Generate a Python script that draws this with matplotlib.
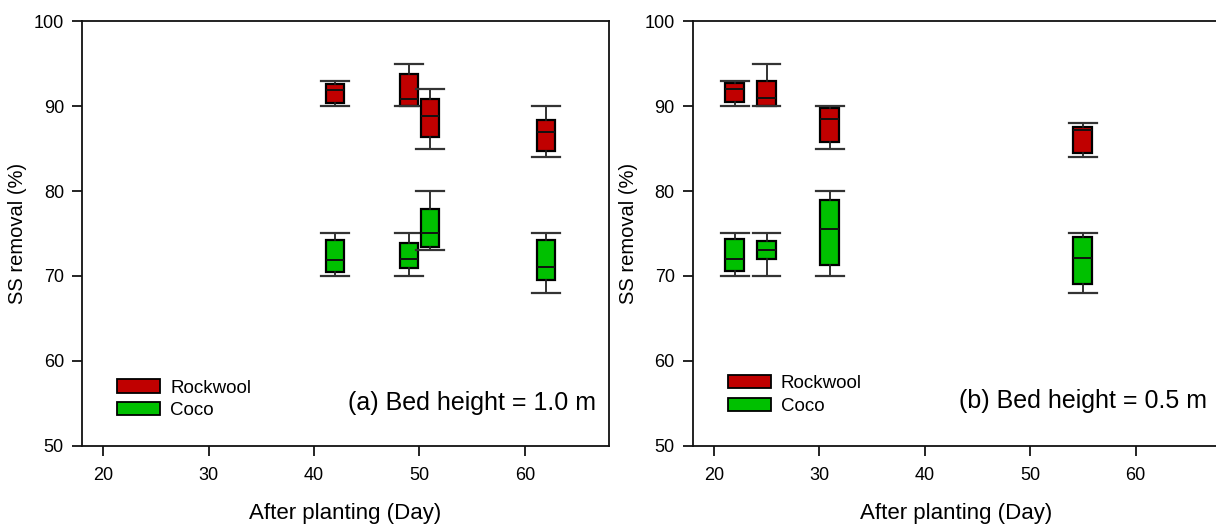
import matplotlib
matplotlib.use("Agg")
import matplotlib.pyplot as plt
from matplotlib.patches import Patch

plt.rcParams['font.family'] = ['Liberation Sans', 'DejaVu Sans']

# ---- Data ----
days_a = [42, 49, 51, 62]
rock_a_lo = [90, 90, 85, 84]
rock_a_q1 = [90.4, 90.0, 86.4, 84.7]
rock_a_med = [91.9, 90.9, 88.9, 86.9]
rock_a_q3 = [92.6, 93.8, 90.9, 88.4]
rock_a_hi = [93, 95, 92, 90]
coco_a_lo = [70, 70, 73, 68]
coco_a_q1 = [70.5, 70.9, 73.4, 69.5]
coco_a_med = [71.9, 72.0, 75.0, 71.0]
coco_a_q3 = [74.2, 73.9, 77.9, 74.2]
coco_a_hi = [75, 75, 80, 75]

days_b = [22, 25, 31, 55]
rock_b_lo = [90, 90, 85, 84]
rock_b_q1 = [90.5, 90.0, 85.8, 84.5]
rock_b_med = [92.0, 91.0, 88.5, 87.2]
rock_b_q3 = [92.7, 93.0, 89.75, 87.6]
rock_b_hi = [93, 95, 90, 88]
coco_b_lo = [70, 70, 70, 68]
coco_b_q1 = [70.6, 72.0, 71.3, 69.0]
coco_b_med = [72.0, 73.0, 75.5, 72.1]
coco_b_q3 = [74.3, 74.1, 79.0, 74.6]
coco_b_hi = [75, 75, 80, 75]

series_labels = ["Rockwool", "Coco"]
panel_titles = ["(a) Bed height = 1.0 m", "(b) Bed height = 0.5 m"]
xticks = [20, 30, 40, 50, 60]
yticks = [50, 60, 70, 80, 90, 100]

RED = "#C00000"
GREEN = "#00C000"


def stats(lo, q1, med, q3, hi):
    return [dict(whislo=a, q1=b, med=c, q3=d, whishi=e, fliers=[])
            for a, b, c, d, e in zip(lo, q1, med, q3, hi)]


def draw(ax, days, groups, width):
    for st, col in groups:
        ax.bxp(st, positions=days, widths=width, capwidths=2.6,
               showfliers=False, patch_artist=True, manage_ticks=False,
               boxprops=dict(facecolor=col, edgecolor="black", linewidth=1.6),
               medianprops=dict(color="#111111", linewidth=1.4),
               whiskerprops=dict(color="#222222", linewidth=1.3),
               capprops=dict(color="#333333", linewidth=1.6))


fig = plt.figure(figsize=(12.16, 5.26), dpi=100)
ax1 = fig.add_axes([0.0674, 0.1527, 0.4336, 0.8068])
ax2 = fig.add_axes([0.5697, 0.1527, 0.4336, 0.8068])

draw(ax1, days_a, [(stats(rock_a_lo, rock_a_q1, rock_a_med, rock_a_q3, rock_a_hi), RED),
                   (stats(coco_a_lo, coco_a_q1, coco_a_med, coco_a_q3, coco_a_hi), GREEN)], 1.65)
draw(ax2, days_b, [(stats(rock_b_lo, rock_b_q1, rock_b_med, rock_b_q3, rock_b_hi), RED),
                   (stats(coco_b_lo, coco_b_q1, coco_b_med, coco_b_q3, coco_b_hi), GREEN)], 1.8)

legend_y = [0.109, 0.12]
text_y = [0.10, 0.105]
for ax, title, ly, ty in zip([ax1, ax2], panel_titles, legend_y, text_y):
    ax.set_xlim(18, 68)
    ax.set_ylim(50, 100)
    ax.set_xticks(xticks)
    ax.set_yticks(yticks)
    ax.tick_params(direction="out", length=7, width=1.2, labelsize=13, pad=6)
    ax.tick_params(axis="x", pad=8)
    for s in ax.spines.values():
        s.set_linewidth(1.3)
        s.set_color("#111111")
    ax.set_xlabel("After planting (Day)", fontsize=16, labelpad=14)
    ax.set_ylabel("SS removal (%)", fontsize=14.5, labelpad=5)
    handles = [Patch(facecolor=RED, edgecolor="black", linewidth=1.3),
               Patch(facecolor=GREEN, edgecolor="black", linewidth=1.3)]
    ax.legend(handles, series_labels, loc="center left", bbox_to_anchor=(0.066, ly),
              frameon=False, fontsize=13.5, handlelength=2.3, handleheight=0.7,
              labelspacing=0.3, handletextpad=0.55, borderaxespad=0, borderpad=0)
    ax.text(0.975, ty, title, transform=ax.transAxes, ha="right", va="center",
            fontsize=18)

fig.savefig("out.png", dpi=100)
